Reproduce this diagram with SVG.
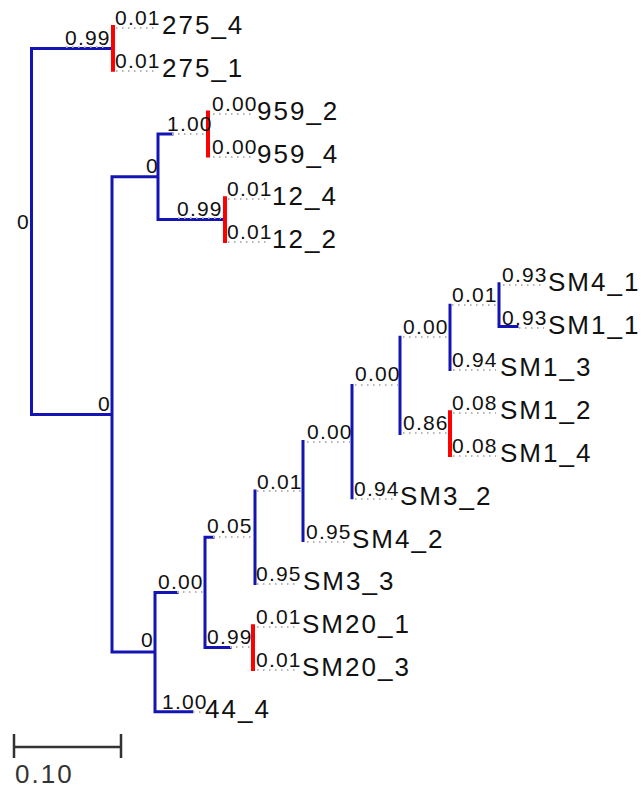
<svg xmlns="http://www.w3.org/2000/svg" width="643" height="796" viewBox="0 0 643 796">
<style>
  .b{fill:none;stroke:#1414b4;stroke-width:3;stroke-linecap:square}
  .r{fill:none;stroke:#ff0000;stroke-width:4;stroke-linecap:square}
  .d{fill:none;stroke:#b4b4b4;stroke-width:2;stroke-dasharray:1.5 4.5}
  .s{font-family:"Liberation Sans",Arial,sans-serif;font-size:21px;letter-spacing:1.2px;fill:#111}
  .L{font-family:"Liberation Sans",Arial,sans-serif;font-size:26px;letter-spacing:2px;fill:#111}
  .sc{fill:none;stroke:#333;stroke-width:2.5}
</style>
<rect width="643" height="796" fill="#fff"/>
<g id="connectors">
  <path class="b" d="M31.5 48.4V414.5M31.5 48.4H113M31.5 414.5H112M112 176.8V652.1M112 176.8H158M158 134V219.6M158 134H172M158 219.6H225M112 652.1H155M155 592.4V711.8M155 711.8H192M155 592.4H177M205 537.3V647.6M205 537.3H213M255 491.1V583.4M205 647.6H230M303 441.6V540.6M352 385.45V497.8M400 337.3V433.6M450 305.2V369.4M499 283.8V326.6M499 326.6H517"/>
  <path class="r" d="M113 27V69.8M208 112.6V155.4M225 198.2V241M450 412.2V455M253 626.2V669"/>
</g>
<g id="root"><text class="s" x="17" y="229">0</text></g>
<g id="n275"><text class="s" x="65" y="45">0.99</text><path class="d" d="M66 47H108"/></g>
<g id="nB"><text class="s" x="98" y="411">0</text></g>
<g id="nC"><text class="s" x="146" y="173">0</text></g>
<g id="n959"><text class="s" x="167" y="131">1.00</text><path class="d" d="M172 134H207"/></g>
<g id="n12"><text class="s" x="177" y="216">0.99</text><path class="d" d="M178 218H221"/></g>
<g id="nD"><text class="s" x="141" y="647">0</text></g>
<g id="nE"><text class="s" x="158" y="589">0.00</text><path class="d" d="M177 592H203"/></g>
<g id="nF"><text class="s" x="207" y="533">0.05</text><path class="d" d="M213 537H253"/></g>
<g id="nSM20"><text class="s" x="207" y="644">0.99</text><path class="d" d="M230 647H251"/></g>
<g id="nG"><text class="s" x="257" y="489">0.01</text><path class="d" d="M257 491H301"/></g>
<g id="nH"><text class="s" x="307" y="439">0.00</text><path class="d" d="M307 442H350"/></g>
<g id="nI"><text class="s" x="355" y="381">0.00</text><path class="d" d="M355 385H398"/></g>
<g id="nJ"><text class="s" x="403" y="334">0.00</text><path class="d" d="M403 337H448"/></g>
<g id="nK"><text class="s" x="403" y="430">0.86</text><path class="d" d="M403 433H448"/></g>
<g id="nL"><text class="s" x="452" y="302">0.01</text><path class="d" d="M452 305H497"/></g>
<g id="l275_4"><text class="s" x="115" y="25">0.01</text><path class="d" d="M116 28H158"/><text class="L" x="162" y="34">275_4</text></g>
<g id="l275_1"><text class="s" x="115" y="68">0.01</text><path class="d" d="M116 71H158"/><text class="L" x="162" y="77">275_1</text></g>
<g id="l959_2"><text class="s" x="212" y="111">0.00</text><path class="d" d="M213 114H254"/><text class="L" x="257" y="120">959_2</text></g>
<g id="l959_4"><text class="s" x="212" y="154">0.00</text><path class="d" d="M213 157H254"/><text class="L" x="257" y="163">959_4</text></g>
<g id="l12_4"><text class="s" x="227" y="196">0.01</text><path class="d" d="M228 199H269"/><text class="L" x="272" y="205">12_4</text></g>
<g id="l12_2"><text class="s" x="227" y="239">0.01</text><path class="d" d="M228 242H269"/><text class="L" x="272" y="248">12_2</text></g>
<g id="lSM4_1"><text class="s" x="502" y="282">0.93</text><path class="d" d="M503 285H544"/><text class="L" x="548" y="291">SM4_1</text></g>
<g id="lSM1_1"><text class="s" x="502" y="325">0.93</text><path class="d" d="M519 328H544"/><text class="L" x="548" y="334">SM1_1</text></g>
<g id="lSM1_3"><text class="s" x="452" y="367">0.94</text><path class="d" d="M453 370H496"/><text class="L" x="500" y="376">SM1_3</text></g>
<g id="lSM1_2"><text class="s" x="452" y="410">0.08</text><path class="d" d="M453 413H496"/><text class="L" x="500" y="419">SM1_2</text></g>
<g id="lSM1_4"><text class="s" x="452" y="453">0.08</text><path class="d" d="M453 456H496"/><text class="L" x="500" y="462">SM1_4</text></g>
<g id="lSM3_2"><text class="s" x="354" y="496">0.94</text><path class="d" d="M355 499H397"/><text class="L" x="400" y="505">SM3_2</text></g>
<g id="lSM4_2"><text class="s" x="306" y="539">0.95</text><path class="d" d="M307 542H349"/><text class="L" x="352" y="548">SM4_2</text></g>
<g id="lSM3_3"><text class="s" x="256" y="581">0.95</text><path class="d" d="M257 584H299"/><text class="L" x="303" y="590">SM3_3</text></g>
<g id="lSM20_1"><text class="s" x="256" y="624">0.01</text><path class="d" d="M257 627H299"/><text class="L" x="302" y="633">SM20_1</text></g>
<g id="lSM20_3"><text class="s" x="256" y="667">0.01</text><path class="d" d="M257 670H299"/><text class="L" x="302" y="676">SM20_3</text></g>
<g id="l44_4"><text class="s" x="162" y="709">1.00</text><path class="d" d="M193 712H202"/><text class="L" x="205" y="718">44_4</text></g>
<g id="scalebar">
  <path class="sc" d="M14 747H121M14 734V758M121 734V758"/>
  <text class="L" x="15" y="783" style="fill:#333">0.10</text>
</g>
</svg>
